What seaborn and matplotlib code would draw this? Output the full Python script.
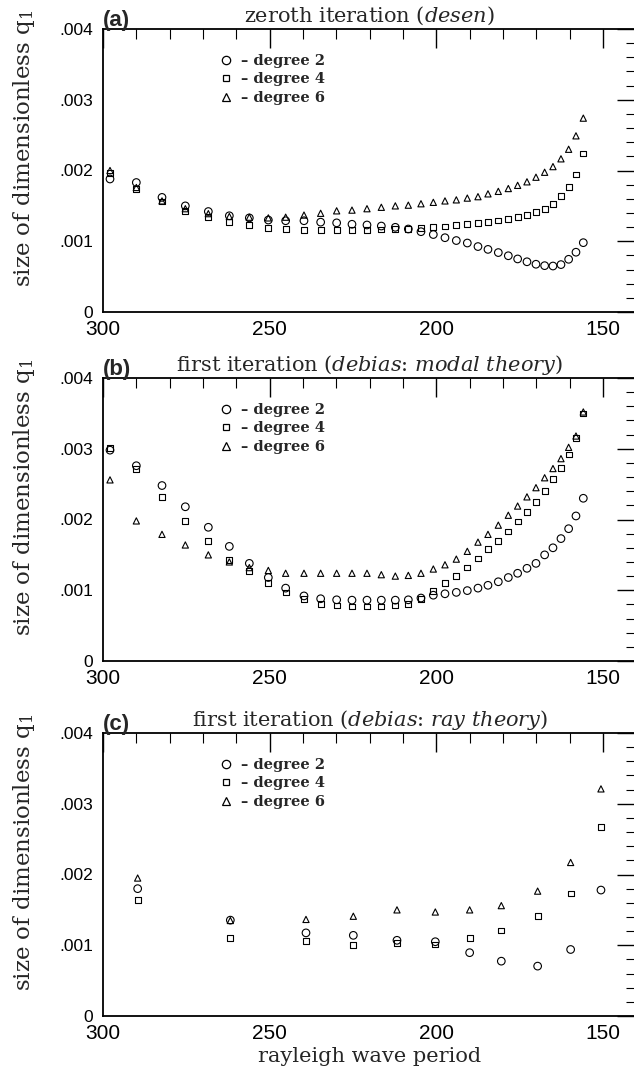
import numpy as np
import pandas as pd
import matplotlib
matplotlib.use("Agg")
import matplotlib.pyplot as plt
from matplotlib.lines import Line2D
from matplotlib.ticker import MultipleLocator, FixedLocator, FuncFormatter
import seaborn as sns

# ---------------- data (q1 in units of 1e-3) ----------------
period_ab = [297.9, 290.0, 282.3, 275.3, 268.4, 262.1, 256.1, 250.4, 245.2, 239.7,
             234.7, 229.9, 225.3, 220.8, 216.5, 212.3, 208.4, 204.6, 200.9, 197.4,
             194.0, 190.7, 187.5, 184.5, 181.4, 178.4, 175.6, 172.8, 170.1, 167.5,
             165.0, 162.6, 160.3, 158.1, 155.9]

a_deg2 = [1.88, 1.83, 1.62, 1.50, 1.42, 1.36, 1.33, 1.30, 1.29, 1.29,
          1.27, 1.26, 1.24, 1.23, 1.215, 1.197, 1.173, 1.135, 1.095, 1.05,
          1.01, 0.975, 0.925, 0.885, 0.84, 0.795, 0.75, 0.71, 0.675, 0.655,
          0.65, 0.67, 0.745, 0.845, 0.98]
a_deg4 = [1.96, 1.74, 1.56, 1.43, 1.34, 1.27, 1.23, 1.19, 1.17, 1.16,
          1.155, 1.155, 1.155, 1.16, 1.165, 1.17, 1.175, 1.185, 1.20, 1.21,
          1.225, 1.24, 1.255, 1.275, 1.295, 1.31, 1.34, 1.37, 1.415, 1.46,
          1.53, 1.635, 1.77, 1.945, 2.24]
a_deg6 = [2.00, 1.76, 1.57, 1.46, 1.39, 1.35, 1.34, 1.33, 1.34, 1.37,
          1.395, 1.43, 1.44, 1.46, 1.48, 1.50, 1.51, 1.53, 1.55, 1.57,
          1.585, 1.61, 1.63, 1.67, 1.705, 1.745, 1.79, 1.84, 1.905, 1.975,
          2.055, 2.165, 2.30, 2.49, 2.74]

b_deg2 = [2.98, 2.76, 2.48, 2.18, 1.89, 1.62, 1.38, 1.18, 1.03, 0.92,
          0.88, 0.865, 0.86, 0.86, 0.86, 0.86, 0.865, 0.89, 0.93, 0.95,
          0.97, 0.995, 1.03, 1.07, 1.12, 1.18, 1.24, 1.31, 1.38, 1.50,
          1.60, 1.73, 1.87, 2.05, 2.30]
b_deg4 = [3.01, 2.71, 2.32, 1.98, 1.70, 1.43, 1.27, 1.10, 0.97, 0.875,
          0.81, 0.785, 0.77, 0.77, 0.77, 0.785, 0.81, 0.88, 0.99, 1.10,
          1.20, 1.32, 1.45, 1.58, 1.70, 1.83, 1.97, 2.11, 2.25, 2.40,
          2.57, 2.73, 2.92, 3.15, 3.50]
b_deg6 = [2.56, 1.98, 1.79, 1.64, 1.50, 1.40, 1.32, 1.28, 1.24, 1.24,
          1.24, 1.24, 1.24, 1.24, 1.22, 1.20, 1.21, 1.24, 1.30, 1.36,
          1.44, 1.55, 1.68, 1.79, 1.92, 2.06, 2.19, 2.32, 2.45, 2.59,
          2.72, 2.86, 3.02, 3.18, 3.52]

period_c = [289.6, 261.8, 239.1, 224.9, 211.8, 200.3, 190.0, 180.5, 169.6, 159.7, 150.6]
c_deg2 = [1.80, 1.355, 1.175, 1.14, 1.07, 1.05, 0.895, 0.775, 0.705, 0.94, 1.78]
c_deg4 = [1.64, 1.105, 1.06, 1.00, 1.03, 1.01, 1.105, 1.21, 1.41, 1.73, 2.67]
c_deg6 = [1.95, 1.35, 1.365, 1.41, 1.50, 1.47, 1.50, 1.56, 1.765, 2.17, 3.21]

degree_labels = ["degree 2", "degree 4", "degree 6"]
panel_tags = ["(a)", "(b)", "(c)"]
panel_titles = [r"zeroth iteration $\mathit{(desen)}$",
                r"first iteration $\mathit{(debias}$: $\mathit{modal\ theory)}$",
                r"first iteration $\mathit{(debias}$: $\mathit{ray\ theory)}$"]
ylabel_text = r"size of dimensionless q$_1$"
xlabel_text = "rayleigh wave period"
x_major = [300, 250, 200, 150]
y_major = [0.0, 0.001, 0.002, 0.003, 0.004]

panels = [
    (period_ab, [a_deg2, a_deg4, a_deg6]),
    (period_ab, [b_deg2, b_deg4, b_deg6]),
    (period_c, [c_deg2, c_deg4, c_deg6]),
]

# ---------------- style ----------------
sns.set_style("white")
plt.rcParams["font.family"] = ["DejaVu Serif", "DejaVu Sans"]
plt.rcParams["mathtext.fontset"] = "dejavuserif"

markers = {"degree 2": "o", "degree 4": "s", "degree 6": "^"}
sizes = {"degree 2": 30, "degree 4": 17, "degree 6": 20}
leg_ms = {"degree 2": 6.0, "degree 4": 4.6, "degree 6": 5.4}

W, H = 634, 1072
fig = plt.figure(figsize=(W / 100, H / 100), dpi=100)
left_px, right_px = 103, 636.3
axes_px = [(29, 312), (378, 661), (733, 1016)]

tick_font = "Liberation Sans"


def yfmt(v, pos):
    if abs(v) < 1e-12:
        return "0"
    return ("%.3f" % v).lstrip("0")


for i, ((per, series), (top, bot)) in enumerate(zip(panels, axes_px)):
    ax = fig.add_axes([left_px / W, 1 - bot / H, (right_px - left_px) / W, (bot - top) / H])
    rows = []
    for lab, vals in zip(degree_labels, series):
        for p, v in zip(per, vals):
            rows.append({"period": p, "q1": v * 1e-3, "degree": lab})
    df = pd.DataFrame(rows)
    for lab in degree_labels:
        sub = df[df["degree"] == lab]
        sns.scatterplot(data=sub, x="period", y="q1", marker=markers[lab], s=sizes[lab],
                        color="black", facecolor="none", edgecolor="black",
                        linewidth=0.8, legend=False, ax=ax, zorder=3)
    ax.set_xlim(300, 140)
    ax.set_ylim(0, 0.004)
    ax.xaxis.set_major_locator(FixedLocator(x_major))
    ax.xaxis.set_minor_locator(MultipleLocator(10))
    ax.yaxis.set_major_locator(FixedLocator(y_major))
    ax.yaxis.set_minor_locator(MultipleLocator(0.0002))
    ax.yaxis.set_major_formatter(FuncFormatter(yfmt))
    ax.xaxis.set_major_formatter(FuncFormatter(lambda v, p: "%d" % v))
    ax.tick_params(which="both", direction="in", top=True, right=True, colors="black")
    ax.tick_params(which="major", length=14, width=1.0)
    ax.tick_params(which="minor", length=7, width=0.8)
    ax.tick_params(axis="x", which="major", pad=6, labelsize=15)
    ax.tick_params(axis="y", which="major", pad=7, labelsize=12.5)
    for t in ax.get_xticklabels() + ax.get_yticklabels():
        t.set_fontfamily(tick_font)
    for sp in ax.spines.values():
        sp.set_linewidth(1.3)
        sp.set_color("black")
    ax.set_xlabel("")
    ax.set_ylabel("")

    ax.set_title(panel_titles[i], fontsize=15, pad=5)
    ax.text(0.0, 1 + 3 / (bot - top), panel_tags[i], transform=ax.transAxes,
            ha="left", va="baseline", fontsize=16, fontweight="bold", family=tick_font)

    handles = [Line2D([], [], ls="none", marker=markers[l], mfc="none", mec="black",
                      ms=leg_ms[l], mew=0.9) for l in degree_labels]
    labels = ["\u2013 " + l for l in degree_labels]
    hl = 0.8
    fs = 10.5
    bx = (226 - 103 - hl * fs * 100 / 72 / 2) / (right_px - left_px)
    by = 1 - 25 / (bot - top)
    ax.legend(handles, labels, loc="upper left", bbox_to_anchor=(bx, by), frameon=False,
              handlelength=hl, handletextpad=0.6, labelspacing=0.3, borderpad=0,
              borderaxespad=0, prop=dict(family="DejaVu Serif", weight="bold", size=fs))

    fig.text(24 / W, 1 - (top - 19) / H, ylabel_text, rotation=90, ha="center", va="top",
             fontsize=16.5)

fig.text(((left_px + right_px) / 2) / W, 1 - 1062 / H, xlabel_text, ha="center",
         va="baseline", fontsize=15)

fig.savefig("out.png", dpi=100)
